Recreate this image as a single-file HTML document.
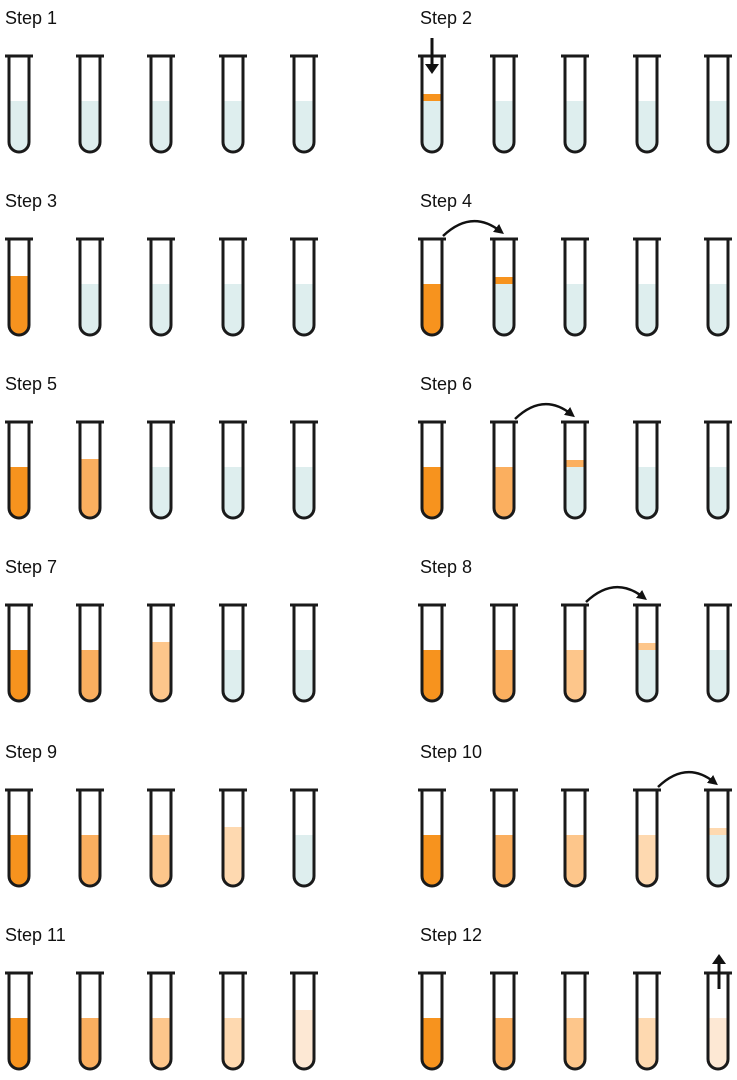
<!DOCTYPE html>
<html><head><meta charset="utf-8"><style>
html,body{margin:0;padding:0;background:#fff;}
body{width:737px;height:1080px;position:relative;overflow:hidden;font-family:"Liberation Sans",sans-serif;}
.l{position:absolute;font-size:18px;color:#111;}
svg{position:absolute;left:0;top:0;}
</style></head><body>
<div class="l" style="left:5px;top:8px">Step 1</div>
<div class="l" style="left:420px;top:8px">Step 2</div>
<div class="l" style="left:5px;top:191px">Step 3</div>
<div class="l" style="left:420px;top:191px">Step 4</div>
<div class="l" style="left:5px;top:374px">Step 5</div>
<div class="l" style="left:420px;top:374px">Step 6</div>
<div class="l" style="left:5px;top:557px">Step 7</div>
<div class="l" style="left:420px;top:557px">Step 8</div>
<div class="l" style="left:5px;top:742px">Step 9</div>
<div class="l" style="left:420px;top:742px">Step 10</div>
<div class="l" style="left:5px;top:925px">Step 11</div>
<div class="l" style="left:420px;top:925px">Step 12</div>
<svg id="s" width="737" height="1080" xmlns="http://www.w3.org/2000/svg">
<defs><marker id="ah" markerWidth="4" markerHeight="4" refX="2" refY="2" orient="auto" markerUnits="strokeWidth"><path d="M0,0 L4,2 L0,4 z" fill="#111"/></marker></defs>
</svg>
<script>
var s=document.getElementById('s');
var C=['#f7931e','#fbaf5f','#fdc68b','#fed9b0','#fde8d4'];
var B='#deeeee';
var L=[19,90,161,233,304],R=[432,504,575,647,718];
var rims=[56,239,422,605,790,973];
// each tube: [color, high?, band color]
function step(n){
 var t=[];
 for(var i=0;i<5;i++)t.push([B,0,null]);
 if(n==2)t[0][2]=C[0];
 if(n>=3){var k=Math.floor((n-1)/2);// number of filled tubes
  for(var i=0;i<k;i++){t[i]=[C[i],0,null];}
  if(n%2==1){t[k-1][1]=1;}
  else if(k<5){t[k][2]=C[k-1];}
 }
 return t;
}
var h='';
function tube(cx,rim,col,high,band){
 var x0=cx-10,x1=cx+10,bot=rim+96,r=10;
 var top=rim+(high?37:45);
 var clip='M'+x0+','+rim+' L'+x0+','+(bot-r)+' A'+r+','+r+' 0 0 0 '+x1+','+(bot-r)+' L'+x1+','+rim+' Z';
 var liq='M'+x0+','+top+' L'+x0+','+(bot-r)+' A'+r+','+r+' 0 0 0 '+x1+','+(bot-r)+' L'+x1+','+top+' Z';
 h+='<path d="'+liq+'" fill="'+col+'"/>';
 if(band)h+='<rect x="'+x0+'" y="'+(top-7)+'" width="20" height="7" fill="'+band+'"/>';
 h+='<path d="M'+x0+','+rim+' L'+x0+','+(bot-r)+' A'+r+','+r+' 0 0 0 '+x1+','+(bot-r)+' L'+x1+','+rim+'" fill="none" stroke="#1a1a1a" stroke-width="3"/>';
 h+='<line x1="'+(cx-14)+'" y1="'+rim+'" x2="'+(cx+14)+'" y2="'+rim+'" stroke="#1a1a1a" stroke-width="3"/>';
}
for(var n=1;n<=12;n++){
 var row=Math.floor((n-1)/2),xs=(n%2)?L:R,rim=rims[row],t=step(n);
 for(var i=0;i<5;i++)tube(xs[i],rim,t[i][0],t[i][1],t[i][2]);
 if(n%2==0&&n>=4&&n<=10){var k=n/2-2;var a=R[k]+11,b=R[k+1]-4;
  h+='<path d="M'+a+','+(rim-3)+' Q'+((a+b)/2)+','+(rim-30)+' '+b+','+(rim-8)+'" fill="none" stroke="#111" stroke-width="2.5" marker-end="url(#ah)"/>';}
}
h+='<line x1="432" y1="38" x2="432" y2="66" stroke="#111" stroke-width="3"/><path d="M425,64 L439,64 L432,74 Z" fill="#111"/>';
h+='<line x1="719" y1="989" x2="719" y2="962" stroke="#111" stroke-width="3"/><path d="M712,964 L726,964 L719,954 Z" fill="#111"/>';
s.insertAdjacentHTML('beforeend',h);
</script>
</body></html>
